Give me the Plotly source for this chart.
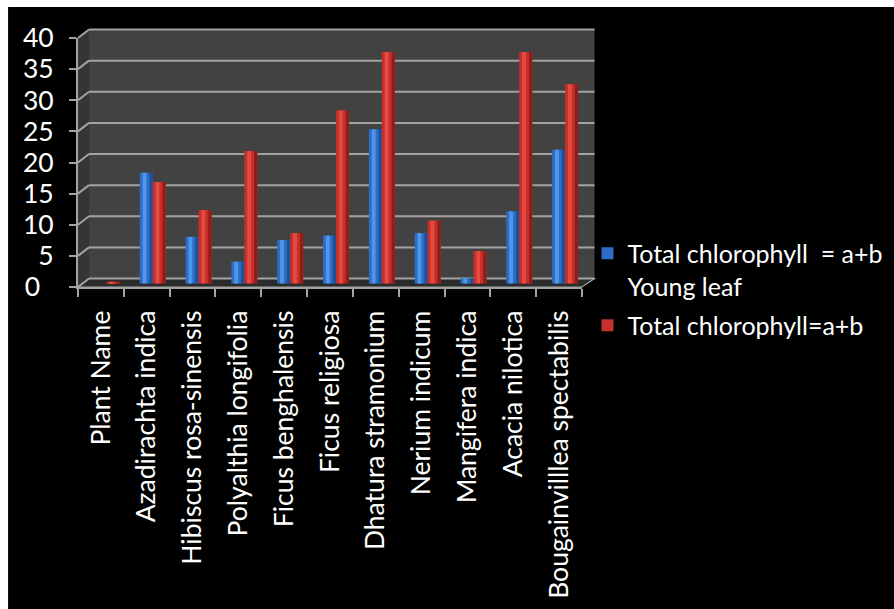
import plotly.graph_objects as go

# ---------------- data ----------------
categories = ["Plant Name", "Azadirachta indica", "Hibiscus rosa-sinensis",
              "Polyalthia longifolia", "Ficus benghalensis", "Ficus religiosa",
              "Dhatura stramonium", "Nerium indicum", "Mangifera indica",
              "Acacia nilotica", "Bougainvilllea spectabilis"]
young_leaf = [0, 17.8, 7.5, 3.5, 7.0, 7.7, 24.8, 8.1, 0.85, 11.6, 21.5]
total_ab = [0.3, 16.3, 11.8, 21.3, 8.1, 27.8, 37.2, 10.1, 5.2, 37.2, 32.0]
series_names = ["Total chlorophyll\u00a0 = a+b<br>Young leaf", "Total chlorophyll=a+b"]
y_ticks = [0, 5, 10, 15, 20, 25, 30, 35, 40]
y_ticktext = ["0\u00a0\u00a0", "5", "10", "15", "20", "25", "30", "35", "40"]

# ---------------- geometry (pixels) ----------------
W, H = 894, 609
L, R = 78, 582.5      # plot area left/right (front)
T, B = 38, 287.5      # plot area top/bottom (front)
PW, PH = R - L, B - T
DX, DY = 11, 8.5      # depth offset of the back wall
K = PH / 40.0         # px per unit


def px(x):
    return (x - L) / PW


def py(y):
    return (B - y) / PH


def path(pts):
    return "M " + " L ".join(f"{px(a):.5f},{py(b):.5f}" for a, b in pts) + " Z"


FONT = "Lato"
FS = 26.5
GRID = "#a3a3a3"

fig = go.Figure()

# invisible trace so the front (labelled) axes are active
fig.add_trace(go.Scatter(x=categories, y=[None] * len(categories), mode="markers",
                         showlegend=False, hoverinfo="skip"))

# bars (offset toward middle depth)
w = 0.283
shift = 0.131
specs = [
    (young_leaf, "#2d6dc6", "#5096e8", "#1f4f94", shift - w, series_names[0]),
    (total_ab, "#c62f2b", "#e34b41", "#911d1b", shift, series_names[1]),
]
for vals, base_c, hi_c, dark_c, off, name in specs:
    fig.add_trace(go.Bar(x=categories, y=vals, name=name, marker_color=base_c,
                         marker_line_width=0, offset=off, width=w, yaxis="y2",
                         legendgroup=name))
    fig.add_trace(go.Bar(x=categories, y=vals, marker_color=dark_c, showlegend=False,
                         marker_line_width=0, offset=off + 0.75 * w, width=0.25 * w,
                         yaxis="y2", hoverinfo="skip"))
    fig.add_trace(go.Bar(x=categories, y=vals, marker_color=hi_c, showlegend=False,
                         marker_line_width=0, offset=off + 0.22 * w, width=0.3 * w,
                         yaxis="y2", hoverinfo="skip"))

shapes = []
# white strips at top/left of the black card
shapes.append(dict(type="rect", xref="paper", yref="paper", x0=px(-5), x1=px(W + 5), y0=py(-5), y1=py(7),
                   fillcolor="white", line_width=0, layer="below"))
shapes.append(dict(type="rect", xref="paper", yref="paper", x0=px(-5), x1=px(8), y0=py(-5), y1=py(H + 5),
                   fillcolor="white", line_width=0, layer="below"))
# back wall
bw_top = B - DY - 40 * K
shapes.append(dict(type="rect", xref="paper", yref="paper", x0=px(L + DX), x1=px(595), y0=py(bw_top), y1=py(B - DY),
                   fillcolor="#424242", line_width=0, layer="below"))
# left wall
shapes.append(dict(type="path", xref="paper", yref="paper",
                   path=path([(L, T), (L + DX, bw_top), (L + DX, B - DY), (L, B)]),
                   fillcolor="#353535", line_width=0, layer="below"))
# floor
shapes.append(dict(type="path", xref="paper", yref="paper",
                   path=path([(L, B), (L + DX, B - DY), (595, B - DY), (R, B)]),
                   fillcolor="#2b2b2b", line=dict(color=GRID, width=1.2), layer="below"))
# gridlines on back + left wall
for v in y_ticks:
    yb = B - DY - v * K
    yf = B - v * K
    shapes.append(dict(type="line", xref="paper", yref="paper", x0=px(L + DX), x1=px(595), y0=py(yb), y1=py(yb),
                       line=dict(color=GRID, width=2), layer="below"))
    shapes.append(dict(type="line", xref="paper", yref="paper", x0=px(L), x1=px(L + DX), y0=py(yf), y1=py(yb),
                       line=dict(color=GRID, width=2), layer="below"))

fig.update_layout(
    width=W, height=H,
    margin=dict(l=L, r=W - R, t=T, b=H - B, pad=0, autoexpand=False),
    paper_bgcolor="black", plot_bgcolor="rgba(0,0,0,0)",
    barmode="overlay",
    font=dict(family=FONT, color="white", size=FS),
    showlegend=True,
    legend=dict(x=px(588), y=py(231), xanchor="left", yanchor="top",
                font=dict(family=FONT, size=25, color="white"),
                bgcolor="rgba(0,0,0,0)", valign="top", tracegroupgap=4,
                itemwidth=30),
    xaxis=dict(type="category", categoryorder="array", categoryarray=categories,
               range=[-0.5, 10.5], tickson="boundaries", ticks="outside", ticklen=8,
               tickcolor=GRID, tickwidth=2, showline=True, linecolor=GRID, linewidth=2,
               showgrid=False, tickangle=-90, ticklabelstandoff=11,
               tickfont=dict(family=FONT, size=FS, color="white"), fixedrange=True),
    yaxis=dict(range=[0, 40], tickvals=y_ticks, ticktext=y_ticktext, ticks="outside", ticklen=7,
               tickcolor=GRID, tickwidth=2, showline=True, linecolor=GRID, linewidth=2,
               showgrid=False, zeroline=False, ticklabelstandoff=10,
               tickfont=dict(family=FONT, size=FS, color="white"), fixedrange=True),
    yaxis2=dict(overlaying="y", range=[-3.5 / K, 40 - 3.5 / K], visible=False,
                fixedrange=True),
    shapes=shapes,
)

fig.write_html("out.html")
